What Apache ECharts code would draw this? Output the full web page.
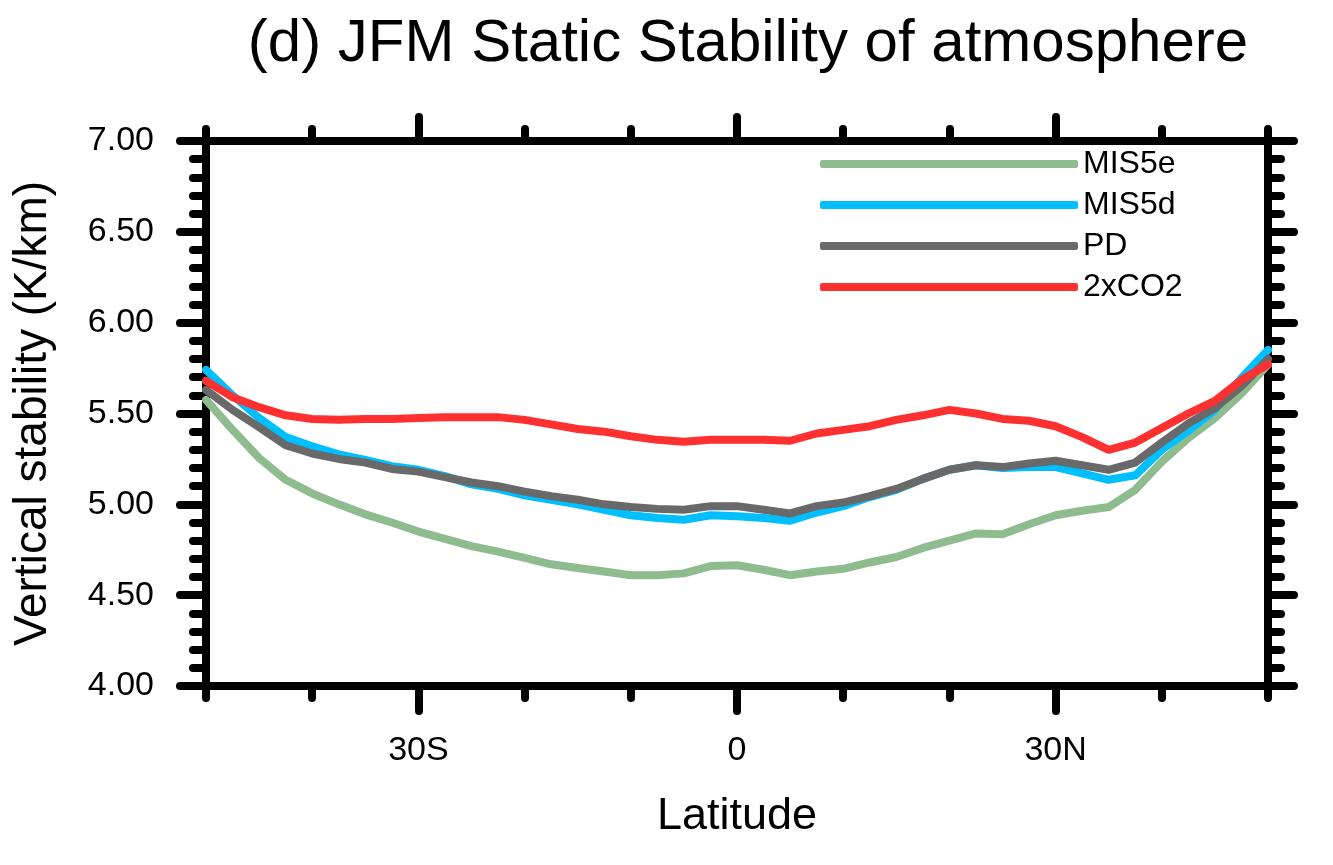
<!DOCTYPE html>
<html>
<head>
<meta charset="utf-8">
<script src="https://cdn.jsdelivr.net/npm/echarts@6/dist/echarts.min.js"></script>
<style>
  html, body { margin: 0; padding: 0; background: #fff; }
  #chart { width: 1333px; height: 865px; }
</style>
</head>
<body>
<div id="chart"></div>
<script>
const titleText = "(d) JFM Static Stability of atmosphere";
const seriesNames = ["MIS5e", "MIS5d", "PD", "2xCO2"];
const seriesColors = ["#8fbc8f", "#00bfff", "#696969", "#ff3030"];

const lats = [-50, -47.5, -45, -42.5, -40, -37.5, -35, -32.5, -30, -27.5, -25, -22.5, -20, -17.5, -15, -12.5, -10, -7.5, -5, -2.5,
  0, 2.5, 5, 7.5, 10, 12.5, 15, 17.5, 20, 22.5, 25, 27.5, 30, 32.5, 35, 37.5, 40, 42.5, 45, 47.5, 50];

const mis5e = [5.575, 5.41, 5.255, 5.135, 5.06, 5.00, 4.945, 4.90, 4.85, 4.81, 4.77, 4.74, 4.705, 4.67, 4.65, 4.63, 4.61, 4.61, 4.62, 4.66,
  4.665, 4.64, 4.61, 4.63, 4.645, 4.68, 4.71, 4.76, 4.80, 4.84, 4.835, 4.89, 4.94, 4.965, 4.985, 5.08, 5.235, 5.365, 5.475, 5.61, 5.77];

const mis5d = [5.74, 5.60, 5.475, 5.37, 5.32, 5.275, 5.245, 5.21, 5.19, 5.155, 5.11, 5.085, 5.05, 5.025, 5.00, 4.97, 4.94, 4.925, 4.915, 4.94,
  4.935, 4.925, 4.91, 4.955, 4.99, 5.04, 5.08, 5.14, 5.19, 5.215, 5.20, 5.205, 5.205, 5.17, 5.135, 5.16, 5.30, 5.405, 5.52, 5.695, 5.85];

const pd = [5.63, 5.52, 5.425, 5.325, 5.28, 5.25, 5.23, 5.195, 5.18, 5.15, 5.12, 5.10, 5.07, 5.045, 5.025, 5.00, 4.985, 4.975, 4.97, 4.99,
  4.99, 4.97, 4.95, 4.99, 5.01, 5.045, 5.085, 5.14, 5.19, 5.215, 5.205, 5.225, 5.24, 5.215, 5.19, 5.23, 5.34, 5.445, 5.53, 5.65, 5.80];

const co2x2 = [5.68, 5.59, 5.535, 5.49, 5.47, 5.465, 5.47, 5.47, 5.475, 5.48, 5.48, 5.48, 5.465, 5.44, 5.415, 5.40, 5.375, 5.355, 5.345, 5.355,
  5.355, 5.355, 5.35, 5.39, 5.41, 5.43, 5.465, 5.49, 5.52, 5.50, 5.47, 5.46, 5.43, 5.37, 5.30, 5.34, 5.42, 5.50, 5.57, 5.685, 5.77];

const xMajorTicks = [-30, 0, 30];
const yTickLabels = ["4.00", "4.50", "5.00", "5.50", "6.00", "6.50", "7.00"];

const allValues = [mis5e, mis5d, pd, co2x2];
const FONT = "Liberation Sans";

function latLabel(v) {
  if (v === 0) return "0";
  return v < 0 ? (-v) + "S" : v + "N";
}

const tickStyle = { color: "#000", width: 8, cap: "round" };
const axisLineStyle = { show: true, onZero: false, lineStyle: { color: "#000", width: 8, cap: "round" } };

function xAxisBase(pos) {
  return {
    type: "value", position: pos, min: -50, max: 50,
    splitLine: { show: false }
  };
}

const chart = echarts.init(document.getElementById("chart"), null, { renderer: "canvas" });

chart.setOption({
  animation: false,
  backgroundColor: "#fff",
  title: {
    text: titleText,
    left: 743, top: 9, textAlign: "center",
    textStyle: { fontFamily: FONT, fontSize: 60, fontWeight: "normal", color: "#000" }
  },
  legend: {
    orient: "vertical",
    left: 820, top: 148,
    padding: 0,
    itemWidth: 258, itemHeight: 8, itemGap: 9,
    icon: "roundRect",
    data: seriesNames,
    textStyle: { fontFamily: FONT, fontSize: 32, lineHeight: 32, color: "#000", padding: [0, 0, 0, 0] }
  },
  grid: { left: 206, right: 65, top: 141, bottom: 179, containLabel: false },
  xAxis: [
    Object.assign(xAxisBase("bottom"), {
      interval: 10,
      axisLine: axisLineStyle,
      axisTick: { show: true, length: 12, lineStyle: tickStyle },
      axisLabel: { show: false },
      name: "Latitude", nameLocation: "middle", nameGap: 108,
      nameTextStyle: { fontFamily: FONT, fontSize: 45, color: "#000" }
    }),
    Object.assign(xAxisBase("bottom"), {
      axisLine: { show: false, onZero: false },
      axisTick: { show: true, length: 25, customValues: xMajorTicks, lineStyle: tickStyle },
      axisLabel: {
        show: true, customValues: xMajorTicks, margin: 48,
        formatter: latLabel,
        fontFamily: FONT, fontSize: 34, color: "#000"
      }
    }),
    Object.assign(xAxisBase("top"), {
      interval: 10,
      axisLine: axisLineStyle,
      axisTick: { show: true, length: 12, lineStyle: tickStyle },
      axisLabel: { show: false }
    }),
    Object.assign(xAxisBase("top"), {
      axisLine: { show: false, onZero: false },
      axisTick: { show: true, length: 24, customValues: xMajorTicks, lineStyle: tickStyle },
      axisLabel: { show: false, customValues: xMajorTicks }
    })
  ],
  yAxis: [
    {
      type: "value", position: "left", min: 4, max: 7, interval: 0.5,
      splitLine: { show: false },
      axisLine: axisLineStyle,
      axisTick: { show: true, length: 26, lineStyle: tickStyle },
      minorTick: { show: true, splitNumber: 5, length: 13, lineStyle: tickStyle },
      minorSplitLine: { show: false },
      axisLabel: {
        margin: 52, fontFamily: FONT, fontSize: 34, color: "#000",
        formatter: function (v) { return yTickLabels[Math.round((v - 4) / 0.5)]; }
      },
      name: "Vertical stability (K/km)", nameLocation: "middle", nameGap: 150, nameRotate: 90,
      nameTextStyle: { fontFamily: FONT, fontSize: 46, color: "#000" }
    },
    {
      type: "value", position: "right", min: 4, max: 7, interval: 0.5,
      splitLine: { show: false },
      axisLine: axisLineStyle,
      axisTick: { show: true, length: 26, lineStyle: tickStyle },
      minorTick: { show: true, splitNumber: 5, length: 13, lineStyle: tickStyle },
      minorSplitLine: { show: false },
      axisLabel: { show: false }
    }
  ],
  series: seriesNames.map(function (name, i) {
    return {
      name: name, type: "line", xAxisIndex: 0, yAxisIndex: 0,
      showSymbol: false, symbol: "none", smooth: false, z: 2 + i,
      color: seriesColors[i],
      lineStyle: { color: seriesColors[i], width: 8, cap: "round", join: "round" },
      data: lats.map(function (lat, k) { return [lat, allValues[i][k]]; })
    };
  })
});
</script>
</body>
</html>
